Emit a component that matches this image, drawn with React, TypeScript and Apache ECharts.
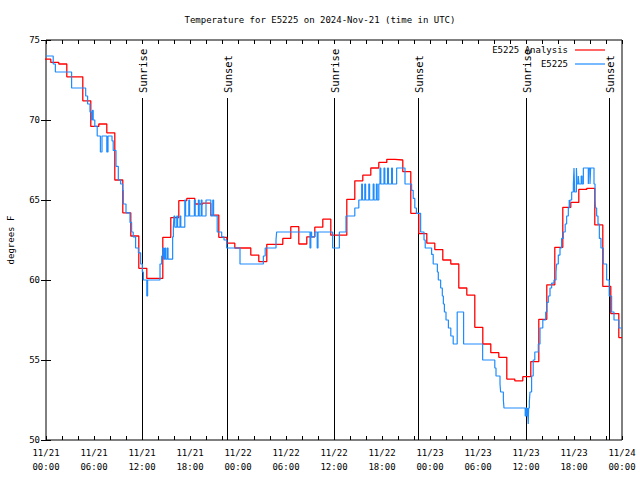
import React, { useEffect, useRef } from 'react';
import * as echarts from 'echarts';

const TITLE = 'Temperature for E5225 on 2024-Nov-21 (time in UTC)';
const START_UTC = Date.UTC(2024, 10, 21, 0, 0);
const X_MIN_HOURS = 0;
const X_MAX_HOURS = 72;
const X_TICK_HOURS = 6;
const Y_MIN = 50;
const Y_MAX = 75;
const Y_TICK = 5;

const SERIES_NAMES = ['E5225 Analysis', 'E5225'];

// hourly analysis values; first one starts at ANALYSIS_FIRST_HOUR, then one per hour
const ANALYSIS_FIRST_HOUR = -0.4;
const analysisValues = [
  73.8, 73.6, 73.5, 72.7, 72.7, 71.2, 69.6, 69.75, 69.2, 66.25,
  64.2, 62.75, 60.73, 60.1, 60.1, 62.67, 63.9, 64.96, 65.1, 64.75,
  64.8, 64.06, 62.67, 62.3, 62.0, 62.0, 61.56, 61.15, 62.23, 62.23,
  62.6, 63.33, 62.25, 62.7, 63.3, 63.8, 62.8, 62.8, 65.04, 66.2,
  66.55, 67.0, 67.35, 67.54, 67.5, 66.77, 64.17, 62.9, 62.3, 61.9,
  61.25, 61.0, 59.5, 59.06, 57.04, 56.0, 55.46, 55.17, 53.81, 53.7,
  53.96, 54.9, 57.54, 59.7, 62.04, 64.54, 64.85, 65.67, 65.73, 63.44,
  59.6, 57.9, 56.4,
];

// observations: hours since 11/21 00:00 UTC and value (deg F)
const obsHours = [
  0, 0.9, 1.17, 3.2, 4.96, 5.2, 5.5, 5.7, 5.8, 5.9,
  6.1, 6.4, 6.8, 7.0, 7.6, 7.75, 8.25, 8.4, 8.75, 9.04,
  9.33, 9.58, 9.67, 10.0, 10.5, 10.7, 10.9, 11.2, 11.55, 11.83,
  12.04, 12.17, 12.6, 12.7, 14.25, 14.46, 14.6, 14.7, 14.85, 14.95,
  15.15, 15.25, 15.83, 15.92, 16.0, 16.1, 16.35, 16.45, 16.75, 16.85,
  17.35, 17.45, 17.85, 17.95, 18.55, 18.65, 19.05, 19.15, 19.4, 19.5,
  20.0, 20.6, 20.85, 20.95, 21.4, 21.96, 22.25, 22.58, 24.25, 27.17,
  27.4, 28.75, 28.83, 33.0, 33.1, 33.2, 33.6, 33.9, 34.0, 35.83,
  36.67, 37.5, 38.6, 39.1, 39.46, 39.55, 39.85, 39.95, 40.35, 40.45,
  40.9, 41.0, 41.3, 41.4, 41.6, 41.75, 41.85, 42.25, 42.35, 42.7,
  42.8, 43.2, 43.3, 43.83, 44.875, 45.7, 45.9, 46.1, 46.3, 46.83,
  47.25, 47.4, 48.2, 48.4, 48.92, 49.04, 49.33, 49.54, 49.67, 49.8,
  50.0, 50.3, 50.6, 50.9, 51.4, 52.2, 54.58, 56.1, 56.25, 56.75,
  56.83, 57.17, 57.25, 59.9, 60.0, 60.1, 60.2, 60.28, 60.33, 60.42,
  60.5, 60.7, 60.9, 61.1, 61.54, 61.75, 62.1, 62.46, 62.6, 62.79,
  63.0, 63.2, 63.5, 63.75, 63.83, 64.04, 64.25, 64.45, 64.67, 64.9,
  65.08, 65.29, 65.4, 65.45, 65.5, 65.71, 65.92, 66.0, 66.08, 66.3,
  66.38, 66.54, 66.62, 66.9, 67.0, 67.17, 67.79, 67.85, 68.0, 68.08,
  68.5, 68.63, 68.7, 68.83, 69.0, 69.17, 69.37, 69.67, 70.08, 70.4,
  70.7, 71.0, 71.6, 72.0,
];
const obsValues = [
  74.0, 73.5, 73.0, 72.0, 71.5, 71.0, 70.5, 70.0, 70.6, 70.0,
  69.6, 69.0, 68.0, 69.0, 68.0, 69.0, 68.7, 68.1, 67.1, 66.25,
  66.0, 65.6, 64.75, 64.2, 63.6, 63.0, 62.7, 62.0, 61.7, 61.0,
  60.5, 60.0, 59.0, 60.0, 61.0, 61.5, 62.0, 61.3, 62.0, 61.3,
  62.0, 61.3, 62.7, 63.3, 64.0, 63.3, 64.0, 63.3, 64.0, 63.3,
  65.0, 64.0, 65.0, 64.0, 65.0, 64.0, 65.0, 64.0, 65.0, 64.0,
  65.0, 64.0, 65.0, 64.0, 63.0, 62.7, 62.5, 62.0, 61.0, 61.5,
  62.0, 62.5, 63.0, 62.0, 63.0, 62.7, 63.0, 62.0, 63.0, 62.0,
  63.0, 64.0, 64.5, 65.0, 66.0, 65.0, 66.0, 65.0, 66.0, 65.0,
  66.0, 65.0, 66.0, 65.0, 66.0, 67.0, 66.0, 67.0, 66.0, 67.0,
  66.0, 67.0, 66.0, 67.0, 66.0, 65.6, 65.1, 64.5, 64.17, 63.0,
  62.5, 62.0, 61.6, 61.0, 60.5, 60.0, 59.5, 59.0, 58.5, 58.0,
  57.5, 57.0, 56.5, 56.0, 58.0, 56.0, 55.0, 54.5, 54.0, 53.5,
  53.0, 52.5, 52.0, 51.5, 52.0, 51.5, 52.0, 51.0, 52.0, 52.4,
  53.0, 54.0, 55.0, 55.5, 56.0, 57.0, 57.5, 58.0, 58.6, 59.0,
  59.5, 59.8, 60.0, 60.5, 61.0, 61.56, 62.0, 62.6, 63.0, 63.5,
  64.0, 64.5, 65.0, 64.5, 65.0, 65.5, 66.0, 67.0, 65.5, 67.0,
  66.0, 66.5, 66.0, 66.5, 66.0, 67.0, 66.0, 67.0, 66.0, 67.0,
  66.0, 65.0, 64.5, 64.0, 63.5, 62.6, 62.0, 61.0, 60.0, 59.0,
  58.0, 57.5, 57.0, 57.0,
];

const sunHours = [12.04, 22.59, 36.04, 46.46, 59.96, 70.41];
const sunLabels = ['Sunrise', 'Sunset', 'Sunrise', 'Sunset', 'Sunrise', 'Sunset'];

const FONT = '"DejaVu Sans Mono", "Liberation Mono", monospace';
const FONT_SIZE = 9;
const SUN_FONT_SIZE = 10.5;

function pad2(n: number) {
  return n < 10 ? '0' + n : '' + n;
}

function formatHour(v: number) {
  const d = new Date(START_UTC + v * 3600 * 1000);
  return (
    pad2(d.getUTCMonth() + 1) + '/' + pad2(d.getUTCDate()) + '\n' +
    pad2(d.getUTCHours()) + ':' + pad2(d.getUTCMinutes())
  );
}

export default function App() {
  const ref = useRef<HTMLDivElement>(null);

  useEffect(() => {
    document.body.style.margin = '0';
    if (!ref.current) return;
    const chart = echarts.init(ref.current, null, { renderer: 'svg' });

    const analysisData: number[][] = analysisValues.map((v, i) => [ANALYSIS_FIRST_HOUR + i, v]);
    analysisData.push([X_MAX_HOURS, analysisValues[analysisValues.length - 1]]);
    const obsData = obsHours.map((h, i) => [h, obsValues[i]]);

    const textStyle = { fontFamily: FONT, fontSize: FONT_SIZE, color: '#000' };

    const option: any = {
      animation: false,
      backgroundColor: '#fff',
      title: {
        text: TITLE,
        left: 'center',
        top: 10,
        textStyle: { ...textStyle, fontWeight: 'normal' },
      },
      legend: {
        data: SERIES_NAMES,
        orient: 'vertical',
        right: 30,
        top: 38,
        align: 'right',
        itemGap: 0,
        itemWidth: 30,
        itemHeight: 1.2,
        icon: 'rect',
        textStyle: { ...textStyle, lineHeight: 14, padding: [0, 2, 0, 0] },
      },
      grid: {
        left: 46,
        right: 18,
        top: 40,
        bottom: 40,
        containLabel: false,
        outerBoundsMode: 'none',
        show: true,
        borderColor: '#000',
        borderWidth: 1,
        backgroundColor: 'transparent',
      },
      xAxis: [
        {
          type: 'value',
          min: X_MIN_HOURS,
          max: X_MAX_HOURS,
          interval: X_TICK_HOURS,
          axisLine: { show: false },
          axisTick: { show: true, inside: true, length: 4, lineStyle: { color: '#000' } },
          minorTick: { show: true, splitNumber: 3, length: 4, lineStyle: { color: '#000' } },
          splitLine: { show: false },
          axisLabel: {
            formatter: formatHour,
            fontFamily: FONT,
            fontSize: FONT_SIZE,
            color: '#000',
            lineHeight: 14,
            margin: 6,
            showMaxLabel: true,
            showMinLabel: true,
          },
        },
        {
          type: 'value',
          position: 'top',
          min: X_MIN_HOURS,
          max: X_MAX_HOURS,
          interval: X_TICK_HOURS,
          axisLine: { show: false },
          axisTick: { show: true, inside: true, length: 4, lineStyle: { color: '#000' } },
          minorTick: { show: true, splitNumber: 3, length: 4, lineStyle: { color: '#000' } },
          splitLine: { show: false },
          axisLabel: { show: false },
        },
      ],
      yAxis: [
        {
          type: 'value',
          min: Y_MIN,
          max: Y_MAX,
          interval: Y_TICK,
          name: 'degrees F',
          nameLocation: 'middle',
          nameGap: 31,
          nameTextStyle: textStyle,
          axisLine: { show: false },
          axisTick: { show: true, inside: true, length: 5, lineStyle: { color: '#000' } },
          splitLine: { show: false },
          axisLabel: { fontFamily: FONT, fontSize: FONT_SIZE, color: '#000', margin: 6 },
        },
        {
          type: 'value',
          position: 'right',
          min: Y_MIN,
          max: Y_MAX,
          interval: Y_TICK,
          axisLine: { show: false },
          axisTick: { show: true, inside: true, length: 5, lineStyle: { color: '#000' } },
          splitLine: { show: false },
          axisLabel: { show: false },
        },
      ],
      series: [
        {
          type: 'custom',
          name: 'sun',
          xAxisIndex: 0,
          yAxisIndex: 0,
          silent: true,
          z: 1,
          data: sunHours.map((h) => [h, Y_MAX]),
          encode: { x: 0, y: 1 },
          renderItem: (params: any, api: any) => {
            const h = api.value(0);
            const x = Math.round(api.coord([h, Y_MAX])[0]) + 0.5;
            const cs = params.coordSys;
            const label = sunLabels[params.dataIndex];
            return {
              type: 'group',
              children: [
                {
                  type: 'line',
                  shape: { x1: x, y1: cs.y + 58, x2: x, y2: cs.y + cs.height },
                  style: { stroke: '#000', lineWidth: 1 },
                },
                {
                  type: 'text',
                  x: x,
                  y: cs.y + 53,
                  rotation: Math.PI / 2,
                  style: {
                    text: label,
                    align: 'left',
                    verticalAlign: 'middle',
                    fill: '#000',
                    font: SUN_FONT_SIZE + 'px ' + FONT,
                  },
                },
              ],
            };
          },
        },
        {
          type: 'line',
          name: SERIES_NAMES[0],
          step: 'end',
          showSymbol: false,
          symbol: 'none',
          color: '#ff0000',
          lineStyle: { color: '#ff0000', width: 1.3 },
          z: 2,
          data: analysisData,
        },
        {
          type: 'line',
          name: SERIES_NAMES[1],
          step: 'end',
          showSymbol: false,
          symbol: 'none',
          color: '#1e8cff',
          lineStyle: { color: '#1e8cff', width: 1.2 },
          z: 3,
          data: obsData,
        },
      ],
    };

    chart.setOption(option);
    return () => {
      chart.dispose();
    };
  }, []);

  return <div ref={ref} style={{ width: 640, height: 480 }} />;
}
